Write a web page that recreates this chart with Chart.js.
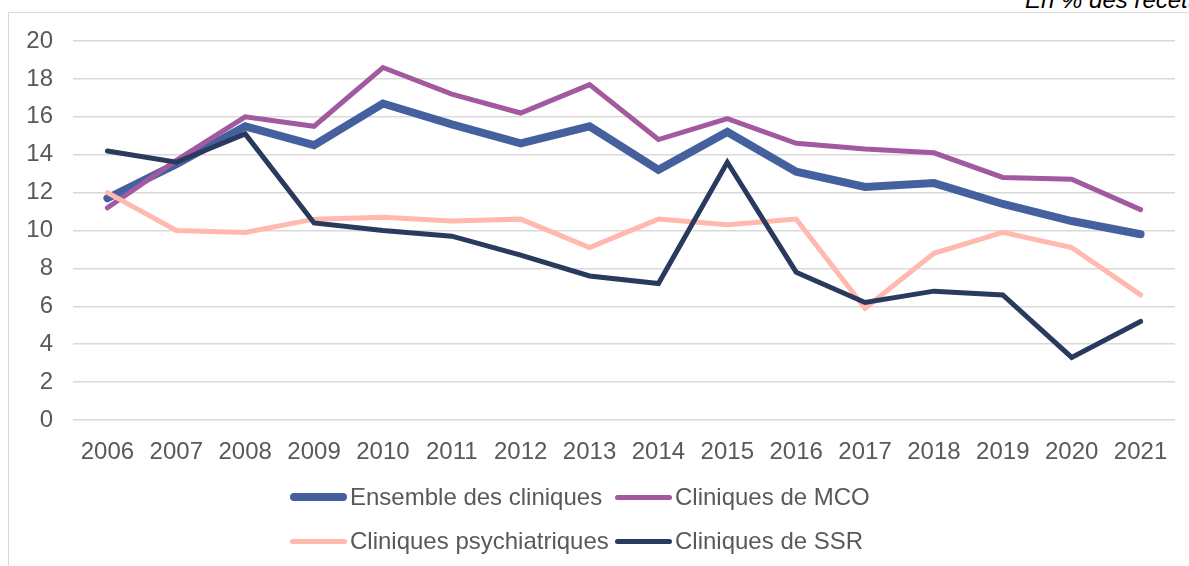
<!DOCTYPE html>
<html>
<head>
<meta charset="utf-8">
<script src="https://cdn.jsdelivr.net/npm/chart.js@4/dist/chart.umd.min.js"></script>
<style>
  html, body { margin: 0; padding: 0; background: #fff; overflow: hidden; }
  body { width: 1189px; height: 566px; position: relative; font-family: "Liberation Sans", Arial, sans-serif; }
  #frame { position: absolute; left: 8px; top: 12px; width: 1300px; height: 700px; border-left: 1px solid #d9d9d9; border-top: 1px solid #d9d9d9; }
  #unit { position: absolute; left: 1025px; top: -12px; font-size: 24px; line-height: 23px; font-style: italic; color: #000; white-space: nowrap; }
  #wrap { position: absolute; left: 0; top: 0; width: 1189px; height: 566px; }
  #legend { position: absolute; left: 290px; top: 475px; display: grid; grid-template-columns: 325px auto; grid-auto-rows: 44px; }
  .item { display: flex; align-items: center; font-size: 24px; color: #595959; white-space: nowrap; }
  .item span.line { display: inline-block; width: 57px; border-radius: 5px; margin-right: 3px; }
</style>
</head>
<body>
<div id="frame"></div>
<div id="unit">En % des recettes</div>
<div id="wrap"><canvas id="myChart"></canvas></div>
<div id="legend"></div>
<script>
const years = ['2006', '2007', '2008', '2009', '2010', '2011', '2012', '2013', '2014', '2015', '2016', '2017', '2018', '2019', '2020', '2021'];
const ensemble = [11.7, 13.5, 15.5, 14.5, 16.7, 15.6, 14.6, 15.5, 13.2, 15.2, 13.1, 12.3, 12.5, 11.4, 10.5, 9.8];
const mco = [11.2, 13.7, 16.0, 15.5, 18.6, 17.2, 16.2, 17.7, 14.8, 15.9, 14.6, 14.3, 14.1, 12.8, 12.7, 11.1];
const psy = [12.0, 10.0, 9.9, 10.6, 10.7, 10.5, 10.6, 9.1, 10.6, 10.3, 10.6, 5.9, 8.8, 9.9, 9.1, 6.6];
const ssr = [14.2, 13.6, 15.1, 10.4, 10.0, 9.7, 8.7, 7.6, 7.2, 13.6, 7.8, 6.2, 6.8, 6.6, 3.3, 5.2];

const textColor = '#595959';

function line(label, data, color, width, order) {
    return {
        label: label,
        data: data,
        borderColor: color,
        backgroundColor: color,
        borderWidth: width,
        borderCapStyle: 'round',
        pointRadius: 0,
        tension: 0,
        order: order
    };
}

const ctx = document.getElementById('myChart').getContext('2d');
const myChart = new Chart(ctx, {
    type: 'line',
    data: {
        labels: years,
        datasets: [
            line('Ensemble des cliniques', ensemble, '#44609e', 8, 3),
            line('Cliniques de MCO', mco, '#a259a0', 5, 2),
            line('Cliniques psychiatriques', psy, '#ffb9ae', 5, 1),
            line('Cliniques de SSR', ssr, '#2a3a5f', 5, 0)
        ]
    },
    options: {
        responsive: true,
        maintainAspectRatio: false,
        animation: false,
        layout: {
            padding: { top: 41, right: 14, bottom: 106, left: 0 }
        },
        scales: {
            x: {
                offset: true,
                grid: { display: false },
                border: { display: false },
                ticks: {
                    color: textColor,
                    padding: 10,
                    maxRotation: 0,
                    autoSkip: false,
                    font: { family: 'Liberation Sans', size: 24 }
                },
                afterFit: function(scale) { scale.height = 40; }
            },
            y: {
                min: 0,
                max: 20,
                grid: { color: '#d9d9d9', lineWidth: 1.5, drawTicks: false },
                border: { display: false },
                ticks: {
                    stepSize: 2,
                    color: textColor,
                    padding: 20,
                    font: { family: 'Liberation Sans', size: 24 }
                },
                afterFit: function(scale) { scale.width = 73; }
            }
        },
        plugins: {
            legend: { display: false },
            tooltip: { enabled: false }
        }
    }
});

// legend built from the datasets, two columns like the original
const legendBox = document.getElementById('legend');
myChart.data.datasets.forEach(function(ds) {
    const item = document.createElement('div');
    item.className = 'item';
    const sample = document.createElement('span');
    sample.className = 'line';
    sample.style.height = ds.borderWidth + 'px';
    sample.style.background = ds.borderColor;
    item.appendChild(sample);
    item.appendChild(document.createTextNode(ds.label));
    legendBox.appendChild(item);
});
</script>
</body>
</html>
